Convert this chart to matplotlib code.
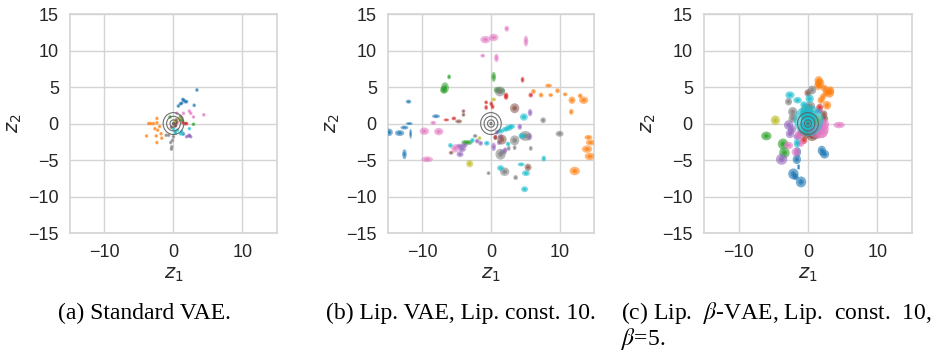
import matplotlib
matplotlib.use("Agg")
import matplotlib.pyplot as plt
from matplotlib.patches import Ellipse, Circle

# ---------------- data ----------------
# class order: 0..9 (tab10 colours); each inner list = one class
a_mu1 = [
    [3.4, 3.0, 1.35, 1.7, 1.0, 0.7, 1.2, 1.9, 1.5],
    [-2.4, -3.6, -3.3, -2.9, -3.9, -2.3, -2.5, -2.4, -1.8, -1.7, -2.0, -2.7, -2.4],
    [2.9, 1.0, 1.2, -0.5, 1.0, 1.3],
    [1.35, 1.7, 1.9, 0.25, 0.5, 0.3],
    [1.9, 2.3, 2.2, 1.45, 2.5],
    [0.1, 0.4, -0.3],
    [2.3, 2.5, 4.4, 1.45, 0.5, 2.9, 1.2],
    [-0.25, -0.3, -0.15, -0.7, -1.06, 0.0, -0.4],
    [0.8, 0.2],
    [2.3, 1.2, 1.0, 0.25, 0.0, 0.6, 1.35, 0.3],
]
a_mu2 = [
    [4.6, 2.5, 3.3, 3.0, 2.7, 2.4, 2.8, 3.0, 3.2],
    [0.7, 0.0, 0.0, 0.0, -1.7, -0.9, -1.7, -2.6, -1.4, -2.0, -0.4, -0.7, 0.1],
    [-0.1, 0.5, 0.7, 0.9, 1.0, 0.4],
    [0.1, 0.0, 0.0, 0.0, 0.2, -0.3],
    [-1.8, -1.6, -1.7, -1.4, -1.8],
    [-0.1, 0.5, -0.5],
    [1.7, 1.4, 1.2, 1.4, 1.4, 0.9, 0.8],
    [-3.2, -3.5, -2.3, -1.6, -1.6, -1.8, -2.6],
    [0.7, 0.3],
    [-0.7, -1.1, -1.4, -1.1, -0.7, -0.9, -1.45, -1.3],
]
a_sd = 0.1  # std of every encoding in the standard VAE (tiny)

b_mu1 = [
    [-12.0, -8.0, -11.9, -12.6, -14.8, -13.3, -11.7, -12.6],
    [6.2, 7.3, 8.4, 8.7, 9.7, 10.8, 11.8, 13.0, 13.5, 11.7, 14.2, 14.5, 14.0, 14.4, 12.2],
    [-6.1, -6.7, -6.9, 0.4, 0.9, 1.4, -3.25, -3.8],
    [4.6, 2.2, 2.2, 0.25, 0.05, -0.7, -0.7, -5.4, -6.5, 5.8, 0.6],
    [0.4, 4.2, 5.7, 5.6, -4.2, -4.5, -3.9, -4.6, -2.0, -1.5, 1.8, 2.1, 1.4, 0.9, 1.2],
    [-4.0, -4.0, -4.7, -5.8, 3.45, 1.6, 5.4, 0.7],
    [2.3, 0.4, -0.8, 5.1, -1.2, 0.8, -9.7, -8.4, -7.6, -9.3, -5.2],
    [7.6, 10.0, 5.0, 3.45, 1.4, 2.0, -0.35, 3.6, 5.8, 3.45, 2.6, -2.3, 1.3],
    [0.4, -3.1, -1.65],
    [4.8, 2.6, 2.1, 1.4, 2.5, -5.9, -2.7, -0.6, 1.4, 4.5, 5.1, 4.4, 7.7, 4.9, 3.0],
]
b_mu2 = [
    [3.0, 1.0, 0.0, -0.55, -1.2, -1.3, -1.4, -4.2],
    [4.4, 3.9, 5.2, 3.9, 4.5, 4.0, 3.2, 3.8, 3.2, 1.6, -1.9, -2.6, -3.5, -4.5, -6.5],
    [6.4, 4.9, 4.6, 6.4, 4.6, 4.5, -2.6, -2.6],
    [6.0, 3.6, 3.9, 2.3, 2.7, 2.2, 2.9, 0.7, 0.5, 3.9, -1.9],
    [-3.2, -0.45, 1.5, -1.8, -3.5, -4.2, -3.0, -3.1, -2.4, -2.7, -3.9, -3.6, -1.8, -1.2, -2.6],
    [1.7, 1.2, 0.3, -4.0, 2.1, -2.2, -6.0, -1.9],
    [13.0, 11.8, 11.5, 11.3, 9.3, 9.0, -1.05, 0.1, -1.1, -4.9, -3.4],
    [0.45, -1.4, -1.7, -2.3, -4.2, -6.6, -6.8, -7.4, -3.4, -3.3, -3.4, -1.7, 4.4],
    [3.3, -5.5, -2.0],
    [0.9, -0.6, -0.8, -1.05, -2.8, -3.0, -2.3, -2.7, -6.1, -1.7, -6.8, -5.6, -4.8, -9.0, -0.4],
]
b_sd1 = [
    [.12, .17, .15, .17, .15, .2, .06, .1],
    [.1, .1, .15, .1, .1, .1, .15, .1, .2, .1, .17, .2, .22, .22, .22],
    [.08, .17, .15, .1, .15, .2, .17, .15],
    [.08, .1, .1, .08, .08, .08, .08, .1, .12, .1, .08],
    [.1, .1, .1, .12, .17, .15, .15, .15, .1, .1, .15, .1, .12, .1, .1],
    [.08, .08, .15, .1, .2, .2, .15, .08],
    [.1, .2, .22, .1, .1, .1, .2, .12, .2, .25, .17],
    [.12, .17, .25, .2, .22, .2, .08, .1, .08, .08, .08, .1, .22],
    [.1, .15, .08],
    [.17, .17, .15, .15, .1, .1, .1, .12, .15, .15, .17, .15, .1, .15, .15],
]
b_sd2 = [
    [.08, .08, .06, .08, .15, .12, .2, .2],
    [.1, .1, .08, .08, .1, .08, .15, .1, .15, .12, .1, .12, .15, .15, .17],
    [.1, .22, .15, .2, .12, .12, .1, .1],
    [.12, .1, .1, .1, .1, .1, .08, .08, .06, .1, .1],
    [.17, .12, .15, .15, .12, .12, .1, .1, .1, .1, .1, .1, .1, .1, .1],
    [.08, .08, .08, .08, .2, .2, .15, .1],
    [.12, .15, .15, .22, .08, .17, .15, .08, .15, .12, .17],
    [.12, .12, .2, .2, .22, .17, .08, .1, .1, .1, .1, .08, .2],
    [.08, .15, .08],
    [.15, .12, .1, .1, .1, .1, .1, .1, .12, .12, .12, .08, .12, .12, .1],
]

c_mu1 = [
    [-1.5, -1.6, -1.35, -1.35, -2.1, -1.0, 2.0, 2.4, -1.8],
    [1.55, 1.7, 1.5, 2.4, 3.1, 3.2, 1.9, 2.75, 2.2, 2.6],
    [-6.0, -3.6, -3.4, -0.4],
    [-0.6, 1.7, 0.6, -1.1],
    [-3.8, -2.8, -2.6, 1.55, -2.3, -1.5],
    [0.0, 2.3, 2.4, 0.6, 1.0, -0.3, 0.2],
    [4.5, -2.8, -1.7, 1.5, 2.0, -1.1, -1.35, 2.3],
    [0.6, -2.8, -2.2, -2.2, -0.15, 0.3, -0.3],
    [-4.7, 1.3, 0.1],
    [-2.6, -1.5, 0.25, -0.6, 0.1, -0.3, 0.4, -1.6, -0.4],
]
c_mu2 = [
    [-3.9, -4.9, -5.8, -6.1, -6.9, -8.0, -3.7, -4.2, -7.3],
    [5.9, 5.5, 5.2, 4.8, 4.2, 4.5, 3.2, 2.5, 3.7, 4.2],
    [-1.7, -2.8, -4.0, -1.2],
    [-2.3, 2.2, -1.5, -1.3],
    [-4.9, -0.2, -1.4, 1.7, -0.8, -1.8],
    [4.2, 1.3, 0.7, -1.8, -1.4, -1.5, -1.0],
    [-0.2, -3.0, -3.9, -0.7, -1.1, -2.7, -1.6, -0.1],
    [4.6, 3.0, 1.6, 0.7, 1.8, 2.4, 1.2],
    [0.45, 0.45, 0.0],
    [3.9, 3.2, 3.4, 2.6, 0.4, 1.3, 1.0, -2.7, -0.5],
]
c_sd1 = [
    [.17, .2, .07, .07, .25, .25, .2, .22, .15],
    [.2, .22, .2, .17, .22, .2, .17, .2, .15, .15],
    [.25, .25, .25, .15],
    [.17, .17, .15, .15],
    [.27, .22, .2, .2, .2, .2],
    [.17, .17, .17, .25, .3, .2, .25],
    [.27, .22, .22, .5, .3, .2, .2, .25],
    [.2, .17, .22, .2, .3, .25, .25],
    [.22, .22, .15],
    [.22, .2, .2, .17, .7, .3, .3, .15, .3],
]
c_sd2 = [
    [.22, .22, .07, .07, .25, .25, .22, .2, .15],
    [.2, .22, .2, .17, .22, .2, .17, .2, .15, .15],
    [.2, .25, .25, .15],
    [.17, .17, .15, .15],
    [.25, .22, .2, .12, .2, .15],
    [.17, .17, .17, .2, .25, .2, .25],
    [.15, .17, .2, .45, .3, .17, .2, .25],
    [.2, .17, .22, .2, .3, .2, .25],
    [.22, .25, .15],
    [.17, .15, .2, .15, .7, .3, .3, .2, .25],
]

prior_radii = [0.15, 0.5, 1.0, 1.5]
x_ticks = [-10, 0, 10]
y_ticks = [-15, -10, -5, 0, 5, 10, 15]
captions = ["(a) Standard VAE.", "(b) Lip. VAE, Lip. const. 10."]
caption_c = ["(c) Lip.  $\\beta$-VAE, Lip.  const.  10,", "$\\beta$=5."]

# ---------------- drawing ----------------
palette = plt.get_cmap("tab10").colors
fig = plt.figure(figsize=(9.38, 3.52), dpi=100)

ax_rects = [
    [0.0746, 0.338, 0.2207, 0.622],
    [0.4136, 0.338, 0.2196, 0.622],
    [0.7505, 0.338, 0.2217, 0.622],
]
# (sigma level, alpha) of the filled contours drawn for every encoding
contour_levels = [
    ((2.6, 0.55), (1.4, 0.65), (0.45, 0.95)),
    ((3.4, 0.55), (1.8, 0.6), (0.6, 0.9)),
    ((3.0, 0.6), (1.6, 0.6), (0.5, 0.9)),
]
TICK_FONT = "Liberation Sans"


def draw_panel(ax, mu1, mu2, sd1, sd2, levels):
    for k in range(10):
        col = palette[k]
        for i in range(len(mu1[k])):
            s1 = sd1[k][i] if isinstance(sd1, list) else sd1
            s2 = sd2[k][i] if isinstance(sd2, list) else sd2
            for scale, alp in levels:
                ax.add_patch(Ellipse((mu1[k][i], mu2[k][i]), 2 * scale * s1, 2 * scale * s2,
                                     facecolor=col, edgecolor="none", alpha=alp, zorder=3))
    for r in prior_radii:
        ax.add_patch(Circle((0, 0), r, facecolor="none", edgecolor="#606060",
                            lw=0.8, alpha=0.9, zorder=5))


panels = [
    (a_mu1, a_mu2, a_sd, a_sd),
    (b_mu1, b_mu2, b_sd1, b_sd2),
    (c_mu1, c_mu2, c_sd1, c_sd2),
]
for rect, (m1, m2, s1, s2), lev in zip(ax_rects, panels, contour_levels):
    ax = fig.add_axes(rect)
    ax.set_facecolor("white")
    draw_panel(ax, m1, m2, s1, s2, lev)
    ax.set_xlim(-15, 15)
    ax.set_ylim(-15, 15)
    ax.set_xticks(x_ticks)
    ax.set_yticks(y_ticks)
    ax.grid(True, color="#d4d4d4", lw=1.0, zorder=0)
    ax.set_axisbelow(True)
    for sp in ax.spines.values():
        sp.set_color("#d4d4d4")
        sp.set_linewidth(1.2)
    ax.tick_params(length=0, pad=8, labelsize=13, labelcolor="#262626")
    for lab in ax.get_xticklabels() + ax.get_yticklabels():
        lab.set_fontfamily(TICK_FONT)
    ax.set_xlabel("$z_1$", fontsize=14, color="#262626", labelpad=3)
    ax.set_ylabel("$z_2$", fontsize=14, color="#262626", labelpad=3)

cap_kw = dict(family="Liberation Serif", fontsize=17, color="black",
              va="center", ha="left", math_fontfamily="stix")
fig.text(58 / 938, 1 - 313 / 352, captions[0], **cap_kw)
fig.text(326 / 938, 1 - 313 / 352, captions[1], **cap_kw)
fig.text(621 / 938, 1 - 313 / 352, caption_c[0], **cap_kw)
fig.text(621 / 938, 1 - 339 / 352, caption_c[1], **cap_kw)

fig.savefig("out.png", dpi=100, facecolor="white")
